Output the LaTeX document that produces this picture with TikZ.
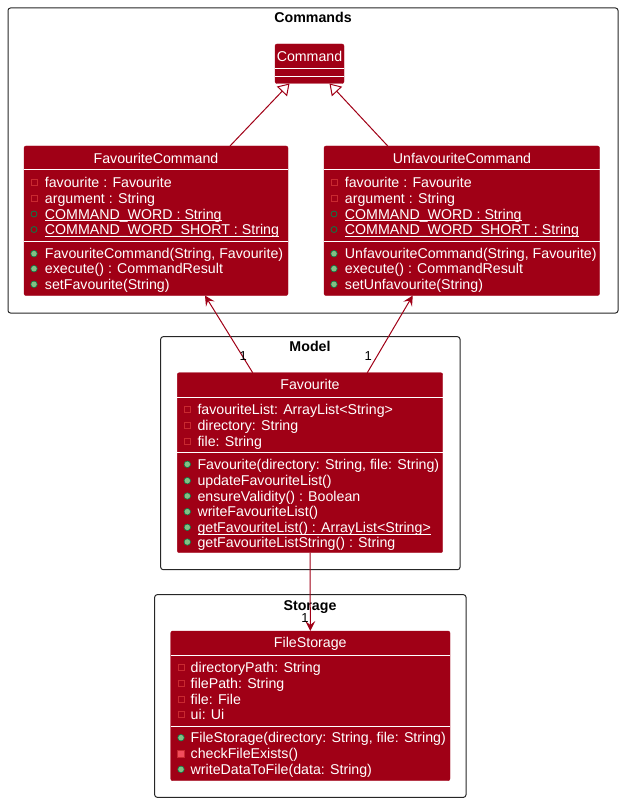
\documentclass[tikz,border=0pt]{standalone}
\usepackage{fontspec}
\setmainfont{Liberation Sans}
\usetikzlibrary{arrows.meta}
\definecolor{clsred}{RGB}{160,0,22}
\definecolor{privred}{RGB}{200,41,48}
\definecolor{privfill}{RGB}{242,77,92}
\definecolor{pubgreen}{RGB}{3,128,72}
\definecolor{pubfill}{RGB}{132,190,132}
\newcommand\clsfont{\fontsize{14.2}{16}\selectfont}
\tikzset{
    pkg/.style ={
        rectangle,
        rounded corners =2.5pt,
        draw=black!85,
        line width=1pt,
        anchor=north west,
        inner sep=0pt, outer sep=0pt
    },
    pkgtitle/.style={font=\clsfont\bfseries, anchor=base, yshift=-5pt, inner sep=0pt},
    cls/.style ={
        rectangle,
        rounded corners =2pt,
        fill=clsred, draw=clsred,
        anchor=north west,
        inner sep=0pt, outer sep=0pt
    },
    hdr/.style={font=\clsfont, text=white, anchor=base, yshift=-5pt, inner sep=0pt},
    mtext/.style={font=\clsfont, text=white, anchor=base west, yshift=-5pt, inner sep=0pt},
    sep/.style={draw=white, line width=1pt},
    privf/.style={rectangle, draw=privred, line width=0.8pt, minimum size=6pt, inner sep=0pt},
    privm/.style={rectangle, draw=privred, fill=privfill, line width=0.6pt, minimum size=6.5pt, inner sep=0pt},
    pubsf/.style={circle, draw=pubgreen, line width=0.8pt, minimum size=6pt, inner sep=0pt},
    pubm/.style={circle, draw=pubgreen, fill=pubfill, line width=0.6pt, minimum size=6.5pt, inner sep=0pt},
    inherit/.style={draw=clsred, line width=1pt, -{Triangle[length=11pt,width=14pt,fill=white]}},
    assoc/.style={draw=clsred, line width=1pt, -{Stealth[length=10pt,width=10pt,inset=4pt]}},
    mult/.style={font=\fontsize{13}{15}\selectfont, inner sep=0pt}
}

\begin{document}
\begin{tikzpicture}[x=1pt,y=-1pt]
    \useasboundingbox (0,0) rectangle (622,802);

    \node[pkg, minimum width=610pt, minimum height=305pt] (commands) at (8,8) {};
    \node[pkgtitle] (commands-t) at (313,18) {Commands};
    \node[pkg, minimum width=299.3pt, minimum height=233pt] (model) at (160.7,336.7) {};
    \node[pkgtitle] (model-t) at (310,346.7) {Model};
    \node[pkg, minimum width=311.3pt, minimum height=202.6pt] (storage) at (154.7,594.7) {};
    \node[pkgtitle] (storage-t) at (310,605) {Storage};

    % Command
    \node[cls, minimum width=69pt, minimum height=39.5pt] (cmd) at (275,44) {};
    \node[hdr] (cmd-t) at (309.5,56.5) {Command};
    \draw[sep] (cmd.west |- 0,68.3) -- (cmd.east |- 0,68.3);
    \draw[sep] (cmd.west |- 0,76.7) -- (cmd.east |- 0,76.7);

    % FavouriteCommand
    \node[cls, minimum width=264pt, minimum height=149.5pt] (favcmd) at (24,146) {};
    \node[hdr] (favcmd-t) at (156,158.3) {FavouriteCommand};
    \draw[sep] (favcmd.west |- 0,170) -- (favcmd.east |- 0,170);
    \draw[sep] (favcmd.west |- 0,241) -- (favcmd.east |- 0,241);
    \foreach \y/\ic/\txt [count=\k] in {182.3/privf/{favourite : Favourite},
        198.3/privf/{argument : String},
        214/pubsf/{\underline{\smash{COMMAND\_WORD : String}}},
        229.5/pubsf/{\underline{\smash{COMMAND\_WORD\_SHORT : String}}},
        253.7/pubm/{FavouriteCommand(String, Favourite)},
        268.7/pubm/{execute() : CommandResult},
        284.3/pubm/{setFavourite(String)}}{
        \node[\ic] (favcmd-i\k) at (34,\y) {};
        \node[mtext] (favcmd-m\k) at (44.7,\y) {\txt};
    }

    % UnfavouriteCommand
    \node[cls, minimum width=275.5pt, minimum height=149.5pt] (unfav) at (324,146) {};
    \node[hdr] (unfav-t) at (462,158.3) {UnfavouriteCommand};
    \draw[sep] (unfav.west |- 0,170) -- (unfav.east |- 0,170);
    \draw[sep] (unfav.west |- 0,241) -- (unfav.east |- 0,241);
    \foreach \y/\ic/\txt [count=\k] in {182.3/privf/{favourite : Favourite},
        198.3/privf/{argument : String},
        214/pubsf/{\underline{\smash{COMMAND\_WORD : String}}},
        229.5/pubsf/{\underline{\smash{COMMAND\_WORD\_SHORT : String}}},
        253.7/pubm/{UnfavouriteCommand(String, Favourite)},
        268.7/pubm/{execute() : CommandResult},
        284.3/pubm/{setUnfavourite(String)}}{
        \node[\ic] (unfav-i\k) at (334,\y) {};
        \node[mtext] (unfav-m\k) at (344.7,\y) {\txt};
    }

    % Favourite
    \node[cls, minimum width=265.4pt, minimum height=180pt] (fav) at (177.3,372.7) {};
    \node[hdr] (fav-t) at (310,384.3) {Favourite};
    \draw[sep] (fav.west |- 0,397.3) -- (fav.east |- 0,397.3);
    \draw[sep] (fav.west |- 0,452.7) -- (fav.east |- 0,452.7);
    \foreach \y/\ic/\txt [count=\k] in {409.3/privf/{favouriteList: ArrayList<String>},
        425.7/privf/{directory: String},
        441/privf/{file: String},
        464.3/pubm/{Favourite(directory: String, file: String)},
        480.7/pubm/{updateFavouriteList()},
        496/pubm/{ensureValidity() : Boolean},
        511.7/pubm/{writeFavouriteList()},
        527.3/pubm/{\underline{\smash{getFavouriteList() : ArrayList<String>}}},
        542/pubm/{getFavouriteListString() : String}}{
        \node[\ic] (fav-i\k) at (187.3,\y) {};
        \node[mtext] (fav-m\k) at (197.3,\y) {\txt};
    }

    % FileStorage
    \node[cls, minimum width=279.3pt, minimum height=149.7pt] (fs) at (170.7,631) {};
    \node[hdr] (fs-t) at (310.3,642.7) {FileStorage};
    \draw[sep] (fs.west |- 0,655.3) -- (fs.east |- 0,655.3);
    \draw[sep] (fs.west |- 0,726) -- (fs.east |- 0,726);
    \foreach \y/\ic/\txt [count=\k] in {667.3/privf/{directoryPath: String},
        683.3/privf/{filePath: String},
        699/privf/{file: File},
        714.7/privf/{ui: Ui},
        737.7/pubm/{FileStorage(directory: String, file: String)},
        753.7/privm/{checkFileExists()},
        769.3/pubm/{writeDataToFile(data: String)}}{
        \node[\ic] (fs-i\k) at (181,\y) {};
        \node[mtext] (fs-m\k) at (190.5,\y) {\txt};
    }

    \draw[inherit] ([xshift=74pt]favcmd.north) -- ([xshift=-20pt]cmd.south);
    \draw[inherit] ([xshift=-74pt]unfav.north) -- ([xshift=20pt]cmd.south);
    \draw[assoc] ([xshift=-57.3pt]fav.north) -- ([xshift=49pt]favcmd.south);
    \draw[assoc] ([xshift=57.3pt]fav.north) -- ([xshift=-49pt]unfav.south);
    \draw[assoc] (fav.south) -- (fs.north);
    \node[mult] (m1) at (243.3,356) {1};
    \node[mult] (m2) at (368.3,356) {1};
    \node[mult] (m3) at (305,618) {1};
\end{tikzpicture}
\end{document}
